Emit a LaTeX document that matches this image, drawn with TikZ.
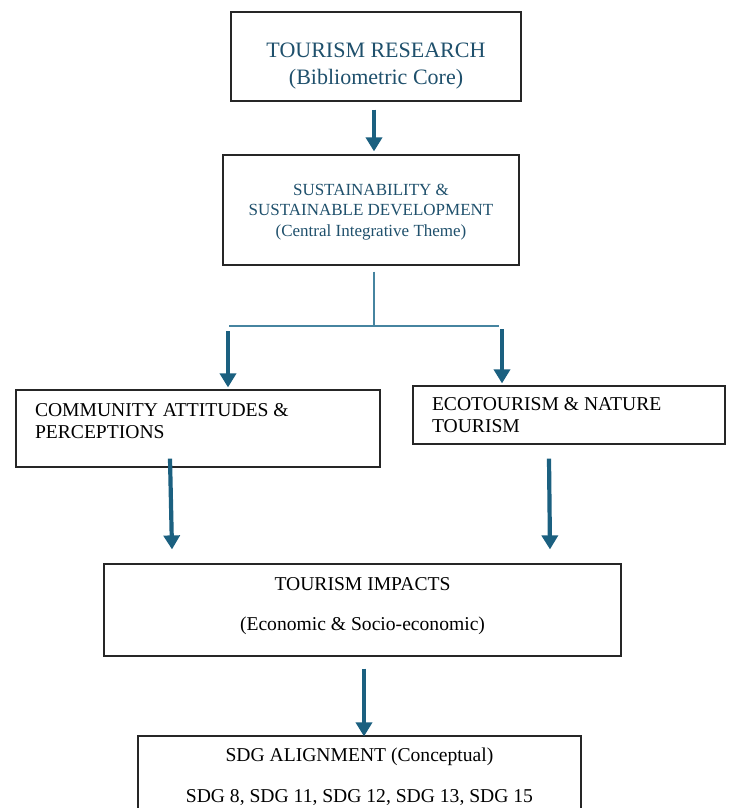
\documentclass[tikz,border=0pt]{standalone}
\usepackage{fontspec}
\setmainfont{Liberation Serif}
\usepackage{tikz}
\usetikzlibrary{arrows.meta, positioning, calc}
\usepackage{xcolor}
\definecolor{primary}{RGB}{27, 96, 128}
\definecolor{TitleTeal}{RGB}{31, 80, 108}
\definecolor{LinkTeal}{RGB}{70, 132, 160}
\tikzset{
    box/.style={draw=black!85, line width=1.2pt, fill=white, inner sep=0pt, align=center, font=\fontsize{19.6}{22}\selectfont},
    titlebox/.style={box, text=TitleTeal},
    arr/.style={-{Triangle[width=16pt, length=14pt]}, line width=4.2pt, draw=primary},
    link/.style={line width=1.1pt, draw=LinkTeal}
}

\begin{document}
\begin{tikzpicture}[x=1pt, y=-1pt]
    \useasboundingbox (0,0) rectangle (728,808);

    \node[titlebox, minimum width=290, minimum height=89, font=\fontsize{22}{27}\selectfont] (core) at (376,56.5) {
      \rule{0pt}{33pt}TOURISM RESEARCH\\(Bibliometric Core)
    };

    \node[titlebox, minimum width=296, minimum height=110, font=\fontsize{17}{20.5}\selectfont] (sustain) at (371,210) {
      \rule{0pt}{15.5pt}SUSTAINABILITY \&\\SUSTAINABLE DEVELOPMENT\\(Central Integrative Theme)
    };

    \node[box, minimum width=364, minimum height=77, inner xsep=19pt, inner ysep=13pt] (community) at (198,428.5) {%
      \parbox[c][51pt][t]{326pt}{\raggedright COMMUNITY ATTITUDES \&\\PERCEPTIONS}%
    };

    \node[box, minimum width=312, minimum height=58, inner xsep=19pt] (eco) at (569,415) {%
      \parbox{274pt}{\raggedright ECOTOURISM \& NATURE\\TOURISM}%
    };

    \node[box, minimum width=517, minimum height=92, inner ysep=13.5pt] (impacts) at (362.5,610) {%
      \parbox[c][65pt][t]{517pt}{\centering TOURISM IMPACTS\\[18pt](Economic \& Socio-economic)}%
    };

    \node[box, minimum width=443, minimum height=100, inner ysep=12pt] (sdg) at (359.5,786) {%
      \parbox[c][76pt][t]{443pt}{\centering SDG ALIGNMENT (Conceptual)\\[19pt]SDG 8, SDG 11, SDG 12, SDG 13, SDG 15}%
    };

    % split below the central theme
    \coordinate (hub) at (374,326);
    \coordinate (hubL) at (229,326);
    \coordinate (hubR) at (499,326);
    \coordinate (sL) at (228,331);
    \coordinate (sR) at (502,329);

    \draw[arr] ($(core.south)+(-2,8)$) -- ($(sustain.north)+(3,-3)$);
    \draw[link] ($(sustain.south)+(3,6)$) -- (hub);
    \draw[link] (hubL) -- (hubR);
    \draw[arr] (sL) -- ($(sL |- community.north)+(0,-2)$);
    \draw[arr] (sR) -- ($(sR |- eco.north)+(0,-2)$);
    \draw[arr] ($(community.south)+(-28,-9)$) -- ($(impacts.north)+(-190.5,-14)$);
    \draw[arr] ($(eco.south)+(-20,14)$) -- ($(impacts.north)+(187.5,-14)$);
    \draw[arr] ($(impacts.south)+(1.5,12)$) -- ($(sdg.north)+(4.5,1)$);
  \end{tikzpicture}
\end{document}
